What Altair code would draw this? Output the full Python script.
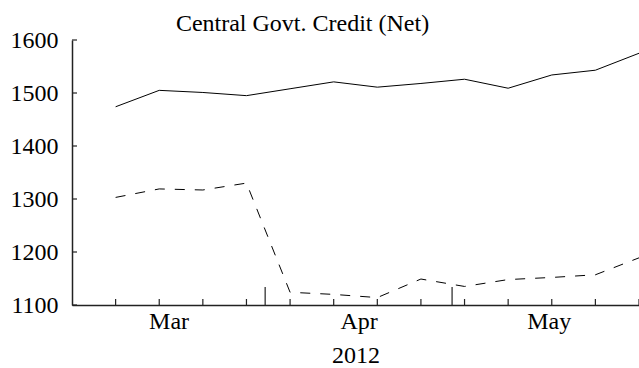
import altair as alt
import pandas as pd

# Weekly observations (2012)
dates = ["2012-03-08", "2012-03-15", "2012-03-22", "2012-03-29", "2012-04-05",
         "2012-04-12", "2012-04-19", "2012-04-26", "2012-05-03", "2012-05-10",
         "2012-05-17", "2012-05-24", "2012-05-31"]
solid_vals = [1474, 1505, 1501, 1495, 1508, 1521, 1511, 1518, 1526, 1509, 1534, 1543, 1575]
dashed_vals = [1303, 1319, 1317, 1330, 1124, 1120, 1114, 1149, 1135, 1148, 1152, 1157, 1189]

month_starts = ["2012-04-01", "2012-05-01"]
month_label_dates = [(2012, 3, 16, 12), (2012, 4, 16, 0), (2012, 5, 16, 12)]
y_ticks = [1100, 1200, 1300, 1400, 1500, 1600]

FONT = "Liberation Serif"
W, H = 567, 265

df = pd.DataFrame({
    "date": [d + "T00:00:00" for d in dates],
    "solid": solid_vals,
    "dashed": dashed_vals,
})
ms = pd.DataFrame({"date": [d + "T00:00:00" for d in month_starts]})
yt = pd.DataFrame({"v": y_ticks})

x_scale = alt.Scale(domain=[alt.DateTime(year=2012, month=3, date=1),
                            alt.DateTime(year=2012, month=5, date=31)])
y_scale = alt.Scale(domain=[1100, 1600], nice=False, zero=False)

x_axis = alt.Axis(
    values=[alt.DateTime(year=y, month=m, date=d, hours=h) for (y, m, d, h) in month_label_dates],
    format="%b", ticks=False, grid=False, labelPadding=4, title="2012",
    titlePadding=10, labelFlush=False,
)
y_axis = alt.Axis(values=y_ticks, format="d", ticks=False, grid=False,
                  labelPadding=14, title=None)

base = alt.Chart(df)

solid = base.mark_line(color="black", strokeWidth=1).encode(
    x=alt.X("date:T", scale=x_scale, axis=x_axis),
    y=alt.Y("solid:Q", scale=y_scale, axis=y_axis),
)
dashed = base.mark_line(color="black", strokeWidth=1, strokeDash=[10, 10]).encode(
    x=alt.X("date:T", scale=x_scale),
    y=alt.Y("dashed:Q", scale=y_scale),
)
small_ticks = base.mark_rule(color="#222", strokeWidth=1.2).encode(
    x=alt.X("date:T", scale=x_scale),
    y=alt.value(H), y2=alt.value(H - 6),
)
tall_ticks = alt.Chart(ms).mark_rule(color="#222", strokeWidth=1.2).encode(
    x=alt.X("date:T", scale=x_scale),
    y=alt.value(H), y2=alt.value(H - 18),
)
y_tick_marks = alt.Chart(yt).mark_rule(color="#222", strokeWidth=1.2).encode(
    y=alt.Y("v:Q", scale=y_scale),
    x=alt.value(0), x2=alt.value(5),
)

chart = alt.layer(solid, dashed, small_ticks, tall_ticks, y_tick_marks).properties(
    width=W, height=H,
    title=alt.TitleParams("Central Govt. Credit (Net)", font=FONT, fontSize=24,
                          fontWeight="normal", color="black", anchor="middle",
                          dx=-53, offset=-8),
    autosize=alt.AutoSizeParams(type="none"),
    padding={"left": 72, "top": 40, "right": 0, "bottom": 63},
).configure_view(stroke=None).configure_axis(
    labelFont=FONT, labelFontSize=24, labelColor="black",
    titleFont=FONT, titleFontSize=24, titleColor="black", titleFontWeight="normal",
    domainColor="#222", domainWidth=1.5,
)

chart.save("out.html", embed_options={"renderer": "svg", "actions": False})
